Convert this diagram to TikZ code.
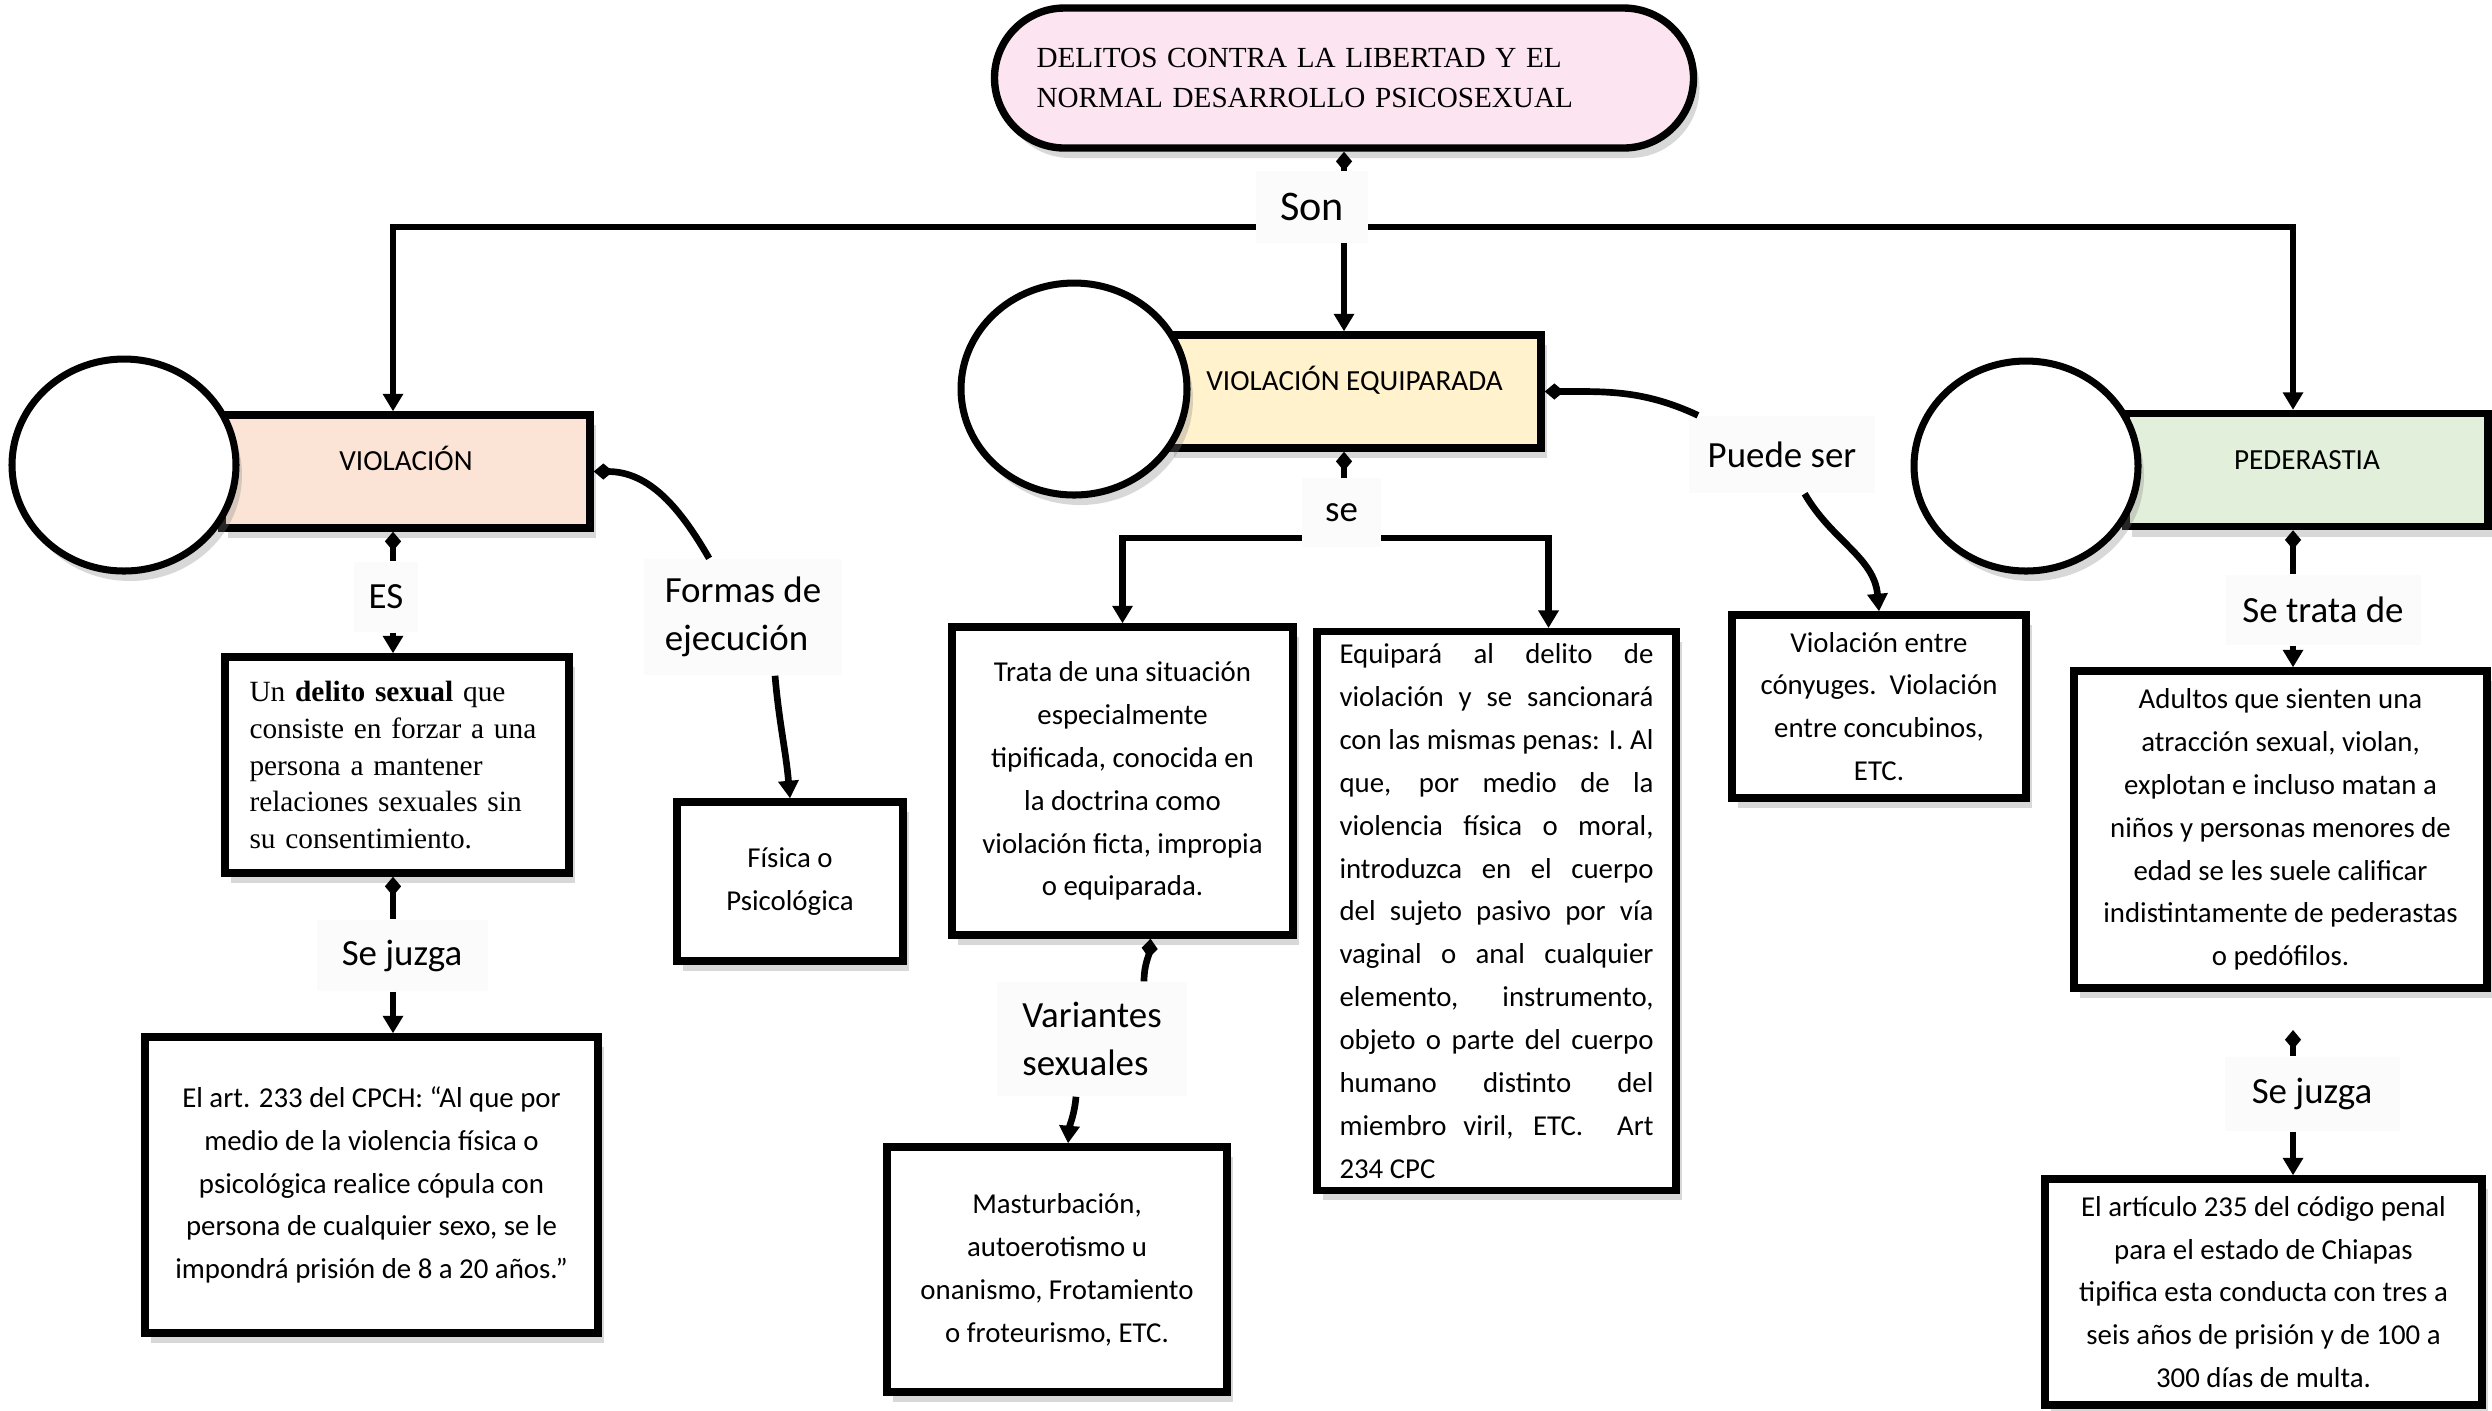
\documentclass[tikz,border=0pt]{standalone}
\usepackage{fontspec}
\setmainfont{Carlito}
\newfontfamily\timesfont{Liberation Serif}
\usepackage{xcolor}
\definecolor{titlepink}{RGB}{252,228,241}
\definecolor{peach}{RGB}{251,228,213}
\definecolor{cream}{RGB}{255,242,204}
\definecolor{sage}{RGB}{226,239,218}
\definecolor{paper}{RGB}{250,251,250}
\usepackage{tikz}
\usetikzlibrary{shapes.geometric,arrows.meta,positioning,shadows}

\begin{document}
\begin{tikzpicture}[
    lift/.style={drop shadow={opacity=0.3, shadow xshift=0.6mm, shadow yshift=-1mm}},
    banner/.style={draw, line width=2.1pt, fill=titlepink, rounded corners=0.7cm, minimum height=1.4cm, text width=6.15cm, inner xsep=0.42cm, align=left, font=\timesfont\fontsize{8.3}{11.3}\selectfont, lift},
    head/.style={draw, line width=2.1pt, minimum height=1.13cm, text height=2.4mm, text depth=2.6mm, font=\fontsize{8.3}{10}\selectfont, lift},
    bubble/.style={draw, ellipse, fill=white, line width=2pt, inner sep=0pt, lift},
    block/.style={draw, fill=white, line width=2.1pt, align=center, font=\fontsize{8.2}{12.2}\selectfont, lift},
    word/.style={fill=paper, inner sep=1pt, font=\fontsize{10.5}{13.8}\selectfont},
    link/.style={draw, line width=1.9pt, {Diamond[length=5.5pt,width=4.6pt]}-},
    line/.style={draw, line width=1.9pt, -{Triangle[length=5pt,width=5.6pt]}}]

    \path [fill=white, use as bounding box] (0,0) rectangle (24.92,-14.10);

    % Junctions and columns
    \coordinate (hub) at (13.44,-2.27);
    \coordinate (brk) at (13.44,-5.38);
    \coordinate (lcol) at (3.93,0);
    \coordinate (rcol) at (22.93,0);
    \coordinate (gap) at (22.93,-10.30);

    % Title
    \node [banner] (title) at (13.44,-0.78) {DELITOS CONTRA LA LIBERTAD Y EL\\NORMAL DESARROLLO PSICOSEXUAL};

    % Kinds of offence
    \node [head, fill=peach, minimum width=3.68cm] (viol) at (4.06,-4.715) {VIOLACIÓN};
    \node [bubble, minimum width=2.24cm, minimum height=2.12cm] (violc) at (1.24,-4.65) {};
    \node [head, fill=cream, minimum width=3.73cm] (ve) at (13.545,-3.915) {VIOLACIÓN EQUIPARADA};
    \node [bubble, minimum width=2.26cm, minimum height=2.12cm] (vec) at (10.74,-3.89) {};
    \node [head, fill=sage, minimum width=3.62cm] (ped) at (23.07,-4.70) {PEDERASTIA};
    \node [bubble, minimum width=2.24cm, minimum height=2.10cm] (pedc) at (20.26,-4.66) {};

    % Violacion column
    \node [block, text width=2.95cm, inner xsep=2.45mm, align=left, minimum height=2.16cm, font=\timesfont\fontsize{8.35}{10.5}\selectfont] (delito) at (3.97,-7.65) {Un \textbf{delito sexual} que\\consiste en forzar a una\\persona a mantener\\relaciones sexuales sin\\su consentimiento.};
    \node [block, minimum width=4.53cm, minimum height=2.96cm] (art) at (3.715,-11.85) {El art. 233 del CPCH: “Al que por\\medio de la violencia física o\\psicológica realice cópula con\\persona de cualquier sexo, se le\\impondrá prisión de 8 a 20 años.”};
    \node [block, minimum width=2.26cm, minimum height=1.59cm] (fisica) at (7.90,-8.815) {Física o\\Psicológica};

    % Violacion equiparada column
    \node [block, minimum width=3.41cm, minimum height=3.08cm] (trata) at (11.225,-7.81) {Trata de una situación\\especialmente\\tipificada, conocida en\\la doctrina como\\violación ficta, impropia\\o equiparada.};
    \node [block, anchor=north, text width=3.14cm, inner xsep=2.25mm, inner ysep=1.2mm, align=justify] (equipara) at (14.965,-6.28) {Equipará al delito de\linebreak violación y se sancionará\linebreak con las mismas penas: I. Al\linebreak que, por medio de la\linebreak violencia física o moral,\linebreak introduzca en el cuerpo\linebreak del sujeto pasivo por vía\linebreak vaginal o anal cualquier\linebreak elemento, instrumento,\linebreak objeto o parte del cuerpo\linebreak humano distinto del\linebreak miembro viril, ETC.\ \ Art\linebreak 234 CPC};
    \node [block, minimum width=3.40cm, minimum height=2.45cm] (mast) at (10.57,-12.695) {Masturbación,\\autoerotismo u\\onanismo, Frotamiento\\o froteurismo, ETC.};
    \node [block, minimum width=2.94cm, minimum height=1.83cm] (conyuges) at (18.79,-7.065) {Violación entre\\cónyuges.\ \ Violación\\entre concubinos,\\ETC.};

    % Pederastia column
    \node [block, minimum width=4.13cm, minimum height=3.17cm] (adultos) at (22.805,-8.295) {Adultos que sienten una\\atracción sexual, violan,\\explotan e incluso matan a\\niños y personas menores de\\edad se les suele calificar\\indistintamente de pederastas\\o pedófilos.};
    \node [block, minimum width=4.37cm, minimum height=2.26cm] (pena) at (22.635,-12.92) {El artículo 235 del código penal\\para el estado de Chiapas\\tipifica esta conducta con tres a\\seis años de prisión y de 100 a\\300 días de multa.};

    % Connector labels
    \node [word, minimum width=0.64cm, minimum height=0.70cm] (es) at (3.86,-5.97) {ES};
    \node [word, minimum width=1.71cm, minimum height=0.71cm] (juzgaL) at (4.02,-9.555) {Se juzga};
    \node [word, minimum width=1.98cm, minimum height=1.16cm, align=left] (formas) at (7.43,-6.17) {Formas de\\ejecución};
    \node [word, minimum width=1.90cm, minimum height=1.14cm, align=left] (varia) at (10.92,-10.39) {Variantes\\sexuales};
    \node [word, minimum width=1.86cm, minimum height=0.77cm] (puede) at (17.82,-4.545) {Puede ser};
    \node [word, minimum width=1.95cm, minimum height=0.70cm] (setrata) at (23.23,-6.10) {Se trata de};
    \node [word, minimum width=1.75cm, minimum height=0.74cm] (juzgaR) at (23.12,-10.94) {Se juzga};

    % Connections from the title
    \path [link] (title.south) -- (hub);
    \path [line] (hub) -- (ve.north -| hub);
    \path [line] (hub) -| (viol.north -| lcol);
    \path [line] (hub) -| (ped.north -| rcol);
    \node [word, minimum width=1.12cm, minimum height=0.72cm, font=\fontsize{12}{14}\selectfont] (son) at (13.12,-2.07) {Son};

    % Connections of violacion
    \path [link] (viol.south -| lcol) -- (es.north -| lcol);
    \path [line] (es.south -| lcol) -- (delito.north -| lcol);
    \path [link] (delito.south -| lcol) -- (juzgaL.north -| lcol);
    \path [line] (juzgaL.south -| lcol) -- (art.north -| lcol);
    \path [link] (viol.east) to[out=0, in=120] (formas);
    \path [line] ([xshift=3.2mm]formas.south) to[out=-85, in=95] (fisica.north);

    % Connections of violacion equiparada
    \path [link] (ve.south -| hub) -- (brk);
    \path [line] (brk) -| (trata.north);
    \path [line] (brk) -| ([xshift=5.2mm]equipara.north);
    \node [word, minimum width=0.79cm, minimum height=0.69cm] (se) at (13.415,-5.125) {se};
    \path [link] ([xshift=2.8mm]trata.south) to[out=-95, in=90] ([xshift=5.2mm]varia.north);
    \path [line] ([xshift=-1.6mm]varia.south) to[out=-95, in=85] ([xshift=1.1mm]mast.north);
    \path [link] (ve.east) to[out=0, in=155] (puede);
    \path [line] (puede) to[out=-60, in=95] (conyuges.north);

    % Connections of pederastia
    \path [link] (ped.south -| rcol) -- (setrata.north -| rcol);
    \path [line] (setrata.south -| rcol) -- (adultos.north -| rcol);
    \path [link] (gap) -- (juzgaR.north -| rcol);
    \path [line] (juzgaR.south -| rcol) -- (pena.north -| rcol);
\end{tikzpicture}
\end{document}
